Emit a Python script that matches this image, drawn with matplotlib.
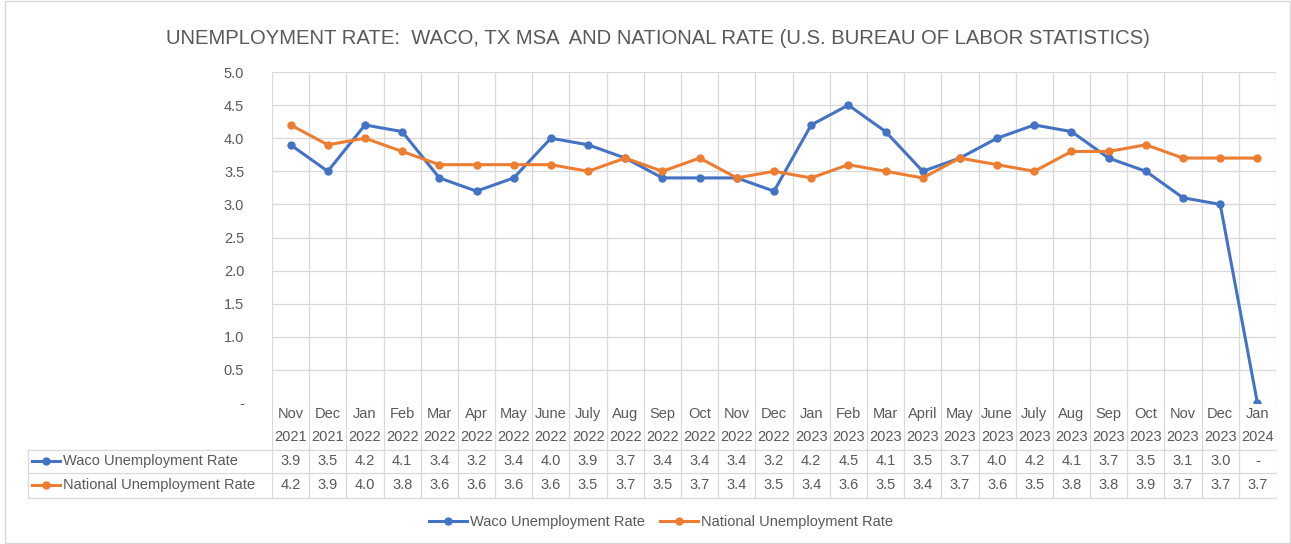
import matplotlib
import matplotlib.pyplot as plt
from matplotlib.patches import Rectangle
from matplotlib.lines import Line2D

matplotlib.use("Agg")

months = ["Nov", "Dec", "Jan", "Feb", "Mar", "Apr", "May", "June", "July", "Aug",
          "Sep", "Oct", "Nov", "Dec", "Jan", "Feb", "Mar", "April", "May", "June",
          "July", "Aug", "Sep", "Oct", "Nov", "Dec", "Jan"]
years = ["2021", "2021"] + ["2022"] * 12 + ["2023"] * 12 + ["2024"]
waco = [3.9, 3.5, 4.2, 4.1, 3.4, 3.2, 3.4, 4.0, 3.9, 3.7, 3.4, 3.4, 3.4, 3.2,
        4.2, 4.5, 4.1, 3.5, 3.7, 4.0, 4.2, 4.1, 3.7, 3.5, 3.1, 3.0, 0.0]
waco_labels = [f"{v:.1f}" for v in waco[:-1]] + ["-"]
national = [4.2, 3.9, 4.0, 3.8, 3.6, 3.6, 3.6, 3.6, 3.5, 3.7, 3.5, 3.7, 3.4, 3.5,
            3.4, 3.6, 3.5, 3.4, 3.7, 3.6, 3.5, 3.8, 3.8, 3.9, 3.7, 3.7, 3.7]
yticks = [0, 0.5, 1.0, 1.5, 2.0, 2.5, 3.0, 3.5, 4.0, 4.5, 5.0]
ytick_labels = ["-"] + [f"{v:.1f}" for v in yticks[1:]]

W, H = 1291, 544
blue = "#4472C4"
orange = "#ED7D31"
grid = "#D9D9D9"
txt = "#595959"
fs = 10.5
plt.rcParams["font.family"] = ["Liberation Sans", "DejaVu Sans"]

fig = plt.figure(figsize=(W / 100, H / 100), dpi=100)
fig.patches.append(Rectangle((5 / W, 0.002), 1 - 6 / W, 0.996, transform=fig.transFigure,
                             fill=False, edgecolor=grid, lw=1))


def px(x0, y0, x1, y1):
    return [x0 / W, 1 - y1 / H, (x1 - x0) / W, (y1 - y0) / H]


n = len(months)
xs = list(range(n))

ax = fig.add_axes(px(272, 72, 1276, 403))
ax.set_xlim(-0.5, n - 0.5)
ax.set_ylim(0, 5)
ax.set_yticks(yticks)
ax.set_yticklabels(ytick_labels, color=txt, fontsize=fs)
ax.set_xticks([])
for s in ax.spines.values():
    s.set_visible(False)
ax.tick_params(axis="y", length=0, pad=20)
for y in yticks:
    ax.axhline(y, color=grid, lw=0.9, zorder=0)
for i in range(n + 1):
    ax.axvline(i - 0.5, color=grid, lw=0.9, zorder=0)
ax.plot(xs, waco, color=blue, lw=2.2, marker="o", ms=5, zorder=3)
ax.plot(xs, national, color=orange, lw=2.2, marker="o", ms=5, zorder=3)

fig.text(658 / W, 1 - 38 / H, "UNEMPLOYMENT RATE:  WACO, TX MSA  AND NATIONAL RATE (U.S. BUREAU OF LABOR STATISTICS)",
         ha="center", va="center", color=txt, fontsize=14.6)

# data table
tab = fig.add_axes(px(272, 403, 1276, 498))
tab.set_xlim(-0.5, n - 0.5)
tab.set_ylim(498, 403)
tab.axis("off")
cw = (1276 - 272) / n
left_x = -0.5 - (272 - 28) / cw
for i in range(n + 1):
    tab.plot([i - 0.5, i - 0.5], [403, 498], color=grid, lw=0.9)
for y in [450, 473, 498]:
    tab.plot([left_x, n - 0.5], [y, y], color=grid, lw=0.9, clip_on=False)
tab.plot([left_x, left_x], [450, 498], color=grid, lw=0.9, clip_on=False)
for i in xs:
    tab.text(i, 414, months[i], ha="center", va="center", color=txt, fontsize=fs)
    tab.text(i, 437, years[i], ha="center", va="center", color=txt, fontsize=fs)
    tab.text(i, 461.5, waco_labels[i], ha="center", va="center", color=txt, fontsize=fs)
    tab.text(i, 485.5, f"{national[i]:.1f}", ha="center", va="center", color=txt, fontsize=fs)
for y, c, lab in [(461.5, blue, "Waco Unemployment Rate"), (485.5, orange, "National Unemployment Rate")]:
    x0 = -0.5 - (272 - 32) / cw
    x1 = -0.5 - (272 - 60) / cw
    tab.plot([x0, x1], [y, y], color=c, lw=2.2, clip_on=False)
    tab.plot([(x0 + x1) / 2], [y], color=c, marker="o", ms=5, clip_on=False)
    tab.text(-0.5 - (272 - 63) / cw, y, lab, ha="left", va="center", color=txt, fontsize=fs)

handles = [Line2D([], [], color=blue, lw=2.2, marker="o", ms=5),
           Line2D([], [], color=orange, lw=2.2, marker="o", ms=5)]
fig.legend(handles, ["Waco Unemployment Rate", "National Unemployment Rate"],
           loc="center", bbox_to_anchor=(661 / W, 1 - 522 / H), ncol=2, frameon=False,
           fontsize=fs, labelcolor=txt, handlelength=2.6, handletextpad=0.2, columnspacing=1.0)

fig.savefig("out.png", dpi=100)
